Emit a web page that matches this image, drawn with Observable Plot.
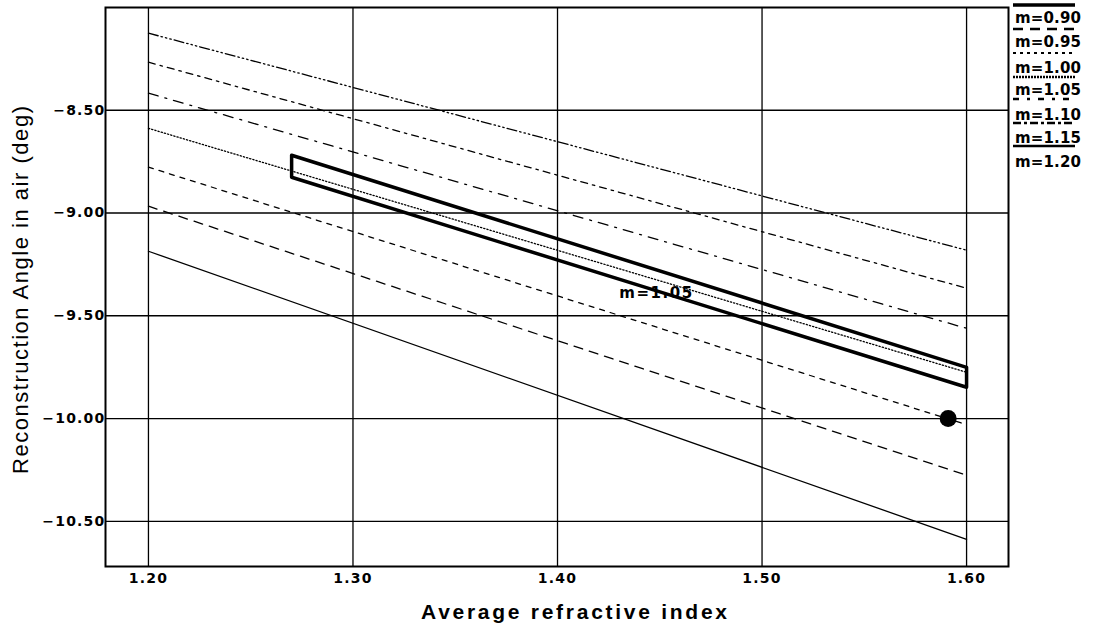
<!DOCTYPE html>
<html><head><meta charset="utf-8">
<script src="https://cdn.jsdelivr.net/npm/d3@7"></script>
<script src="https://cdn.jsdelivr.net/npm/@observablehq/plot@0.6"></script>
<style>body{margin:0;background:#fff}</style>
</head><body><div id="chart"></div>
<script>
// ---- data ----
const xEnds = [1.20, 1.60];
const seriesNames = ["m=0.90", "m=0.95", "m=1.00", "m=1.05", "m=1.10", "m=1.15", "m=1.20"];
const yM090 = [-9.186, -10.588];
const yM095 = [-8.967, -10.276];
const yM100 = [-8.777, -10.030];
const yM105 = [-8.588, -9.775];
const yM110 = [-8.417, -9.561];
const yM115 = [-8.266, -9.366];
const yM120 = [-8.125, -9.181];
const seriesValues = [yM090, yM095, yM100, yM105, yM110, yM115, yM120];
const boxX = [1.27, 1.60, 1.60, 1.27, 1.27];
const boxY = [-8.719, -9.751, -9.848, -8.826, -8.719];
const pointX = [1.591];
const pointY = [-10.00];
const labelX = [1.448];
const labelY = [-9.39];
const labelText = ["m=1.05"];
const xTicks = [1.20, 1.30, 1.40, 1.50, 1.60];
const yTicks = [-8.50, -9.00, -9.50, -10.00, -10.50];
const xTitle = "Average refractive index";
const yTitle = "Reconstruction Angle in air (deg)";

// ---- styles (kept apart from data) ----
const lineDash = {
  "m=0.90": null,
  "m=0.95": "9,7",
  "m=1.00": "5,6",
  "m=1.05": "1.3,2",
  "m=1.10": "10,7,2,7",
  "m=1.15": "7,5,2.5,5",
  "m=1.20": "10,3,1.5,3,1.5,3,1.5,3"
};

const rows = [];
seriesNames.forEach((name, i) => xEnds.forEach((x, j) => rows.push({m: name, x, y: seriesValues[i][j]})));
const box = boxX.map((x, i) => ({x, y: boxY[i]}));
const point = pointX.map((x, i) => ({x, y: pointY[i]}));
const label = labelX.map((x, i) => ({x, y: labelY[i], t: labelText[i]}));

const fmt = d3.format(".2f");
const plot = Plot.plot({
  width: 1098, height: 631,
  marginLeft: 105, marginRight: 90, marginTop: 7, marginBottom: 65,
  x: {domain: [1.179, 1.6205]},
  y: {domain: [-10.72, -8.0]},
  style: {background: "white", color: "black"},
  marks: [
    Plot.gridX(xTicks, {stroke: "black", strokeOpacity: 1, strokeWidth: 1.3}),
    Plot.gridY(yTicks, {stroke: "black", strokeOpacity: 1, strokeWidth: 1.3}),
    Plot.frame({stroke: "black", strokeWidth: 2}),
    ...seriesNames.map(name => Plot.line(rows.filter(d => d.m === name), {
      x: "x", y: "y", stroke: "black", strokeWidth: 1.3, strokeDasharray: lineDash[name]
    })),
    Plot.line(box, {x: "x", y: "y", stroke: "black", strokeWidth: 3.5, strokeLinejoin: "round"}),
    Plot.dot(point, {x: "x", y: "y", r: 8.5, fill: "black", stroke: null}),
    Plot.text(label, {x: "x", y: "y", text: "t", fontSize: 15, fontWeight: "bold", fontFamily: "DejaVu Sans"}),
    Plot.axisX(xTicks, {tickSize: 0, tickPadding: 7, tickFormat: fmt, fontSize: 14, fontWeight: "bold", fontFamily: "DejaVu Sans", label: null}),
    Plot.axisY(yTicks, {tickSize: 0, tickPadding: 0, tickFormat: fmt, fontSize: 14, fontWeight: "bold", fontFamily: "DejaVu Sans", label: null}),
    Plot.text([xTitle], {frameAnchor: "bottom", textAnchor: "middle", dx: 17, dy: 52, fontSize: 21, fontWeight: "bold", fontFamily: "Liberation Sans"}),
    Plot.text([yTitle], {frameAnchor: "left", textAnchor: "middle", dx: -85, dy: 3, rotate: -90, fontSize: 22, fontFamily: "Liberation Sans"})
  ]
});
document.getElementById("chart").appendChild(plot);

const svg = d3.select(plot);
svg.selectAll('g[aria-label="x-axis tick label"] text, g[aria-label="y-axis tick label"] text').style("letter-spacing", "1.2px");
const byText = (s) => svg.selectAll("text").filter(function() { return this.textContent === s; });
byText(xTitle).attr("textLength", 306).attr("lengthAdjust", "spacing");
byText(yTitle).attr("textLength", 368).attr("lengthAdjust", "spacing");
byText(labelText[0]).attr("textLength", 73).attr("lengthAdjust", "spacing");

// ---- legend (right side) ----
const legendDash = ["", "10,7", "3,4", "2,1", "6,8,3,8", "8,3,3,3", ""];
const legendWidth = [3.5, 2.5, 2.2, 2.5, 2.5, 2.5, 2.5];
const sampleY = [5, 29, 53, 77, 99, 123, 146];
const textBase = [23, 47, 73, 95, 120, 143, 167];
const lg = svg.append("g").attr("aria-label", "legend");
seriesNames.forEach((name, i) => {
  lg.append("line").attr("x1", 1013).attr("x2", 1075).attr("y1", sampleY[i]).attr("y2", sampleY[i])
    .attr("stroke", "black").attr("stroke-width", legendWidth[i])
    .attr("stroke-dasharray", legendDash[i] || null);
  lg.append("text").attr("x", 1015).attr("y", textBase[i]).text(name)
    .attr("text-anchor", "start")
    .attr("font-family", "DejaVu Sans").attr("font-weight", "bold").attr("font-size", 15)
    .attr("textLength", 66).attr("lengthAdjust", "spacing").attr("fill", "black");
});
</script>
</body></html>
